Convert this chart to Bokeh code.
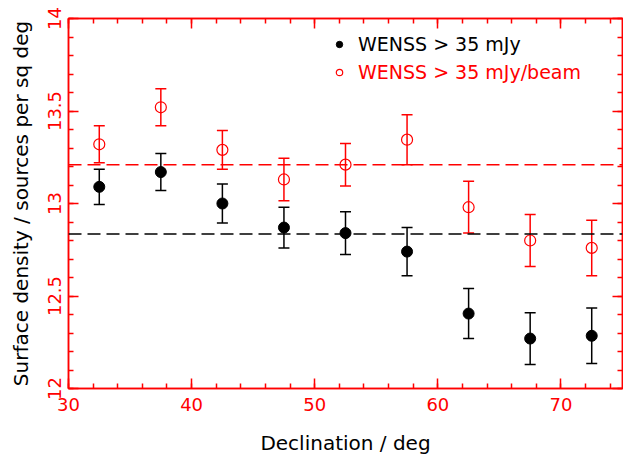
from bokeh.plotting import figure
from bokeh.models import (ColumnDataSource, Whisker, TeeHead, Span, Legend, LegendItem,
                          LinearAxis, SingleIntervalTicker, Range1d, CustomJSTickFormatter)
from bokeh.embed import file_html
from bokeh.resources import INLINE

dec = [32.5, 37.5, 42.5, 47.5, 52.5, 57.5, 62.5, 67.5, 72.5]
dens_flux = [13.09, 13.17, 13.00, 12.87, 12.84, 12.74, 12.405, 12.27, 12.285]
err_flux = [0.095, 0.10, 0.105, 0.11, 0.115, 0.13, 0.135, 0.14, 0.15]
dens_peak = [13.32, 13.52, 13.29, 13.13, 13.21, 13.345, 12.98, 12.80, 12.76]
err_peak = [0.10, 0.10, 0.105, 0.115, 0.115, 0.135, 0.14, 0.14, 0.15]
mean_flux = 12.835
mean_peak = 13.21
label_flux = "WENSS > 35 mJy"
label_peak = "WENSS > 35 mJy/beam"

RED = "#ff0000"
FONT = "DejaVu Sans"

def src(y, e):
    return ColumnDataSource(dict(x=dec, y=y,
                                 lo=[a - b for a, b in zip(y, e)],
                                 hi=[a + b for a, b in zip(y, e)]))

s_flux = src(dens_flux, err_flux)
s_peak = src(dens_peak, err_peak)

p = figure(width=623, height=460, output_backend="svg", toolbar_location=None,
           x_range=Range1d(30, 75), y_range=Range1d(12, 14),
           min_border_left=68, min_border_top=18, min_border_right=1, min_border_bottom=72)
p.grid.visible = False
p.outline_line_color = RED
p.outline_line_width = 1.5
p.background_fill_color = "white"
p.border_fill_color = "white"

xt = SingleIntervalTicker(interval=10, num_minor_ticks=5)
yt = SingleIntervalTicker(interval=0.5, num_minor_ticks=5)

def style(ax):
    ax.axis_line_color = RED
    ax.axis_line_width = 1.5
    ax.major_tick_line_color = RED
    ax.minor_tick_line_color = RED
    ax.major_tick_line_width = 1.5
    ax.minor_tick_line_width = 1.5
    ax.major_tick_in = 10
    ax.major_tick_out = 0
    ax.minor_tick_in = 5
    ax.minor_tick_out = 0
    ax.major_label_text_color = RED
    ax.major_label_text_font = FONT
    ax.major_label_text_font_size = "18px"
    ax.axis_label_text_font = FONT
    ax.axis_label_text_font_size = "20px"
    ax.axis_label_text_font_style = "normal"
    ax.axis_label_text_color = "black"

p.xaxis.ticker = xt
p.yaxis.ticker = yt
style(p.xaxis[0])
style(p.yaxis[0])
p.xaxis.axis_label = "Declination / deg"
p.yaxis.axis_label = "Surface density / sources per sq deg"
p.xaxis.major_label_standoff = 9
p.xaxis.axis_label_standoff = 17
p.yaxis.major_label_orientation = "vertical"
p.yaxis.major_label_standoff = 8
p.yaxis.axis_label_standoff = 12

top = LinearAxis(ticker=xt, formatter=CustomJSTickFormatter(code="return ''"))
style(top)
top.major_label_standoff = 0
right = LinearAxis(ticker=yt, formatter=CustomJSTickFormatter(code="return ''"))
style(right)
right.major_label_standoff = 0
p.add_layout(top, "above")
p.add_layout(right, "right")

p.add_layout(Span(location=mean_peak, dimension="width", line_color=RED,
                  line_dash="13 6", line_width=1.5))
p.add_layout(Span(location=mean_flux, dimension="width", line_color="black",
                  line_dash="13 6", line_width=1.5))

for s, c in ((s_flux, "black"), (s_peak, RED)):
    p.add_layout(Whisker(source=s, base="x", lower="lo", upper="hi",
                         line_color=c, line_width=1.5,
                         upper_head=TeeHead(size=11, line_color=c, line_width=1.5),
                         lower_head=TeeHead(size=11, line_color=c, line_width=1.5)))

r_flux = p.scatter("x", "y", source=s_flux, size=11, marker="circle",
                   fill_color="black", line_color="black")
r_peak = p.scatter("x", "y", source=s_peak, size=11, marker="circle",
                   fill_color=None, line_color=RED, line_width=1.2)

def leg(r, label, color, loc):
    lg = Legend(items=[LegendItem(label=label, renderers=[r])], location=loc,
                border_line_color=None, background_fill_alpha=0,
                label_text_color=color, label_text_font=FONT,
                label_text_font_size="19px", padding=0, margin=0,
                spacing=0, glyph_width=16, glyph_height=20, label_height=20,
                label_standoff=11)
    p.add_layout(lg)

leg(r_flux, label_flux, "black", (263, 333))
leg(r_peak, label_peak, RED, (263, 305))

open("out.html", "w").write(file_html(p, INLINE))
